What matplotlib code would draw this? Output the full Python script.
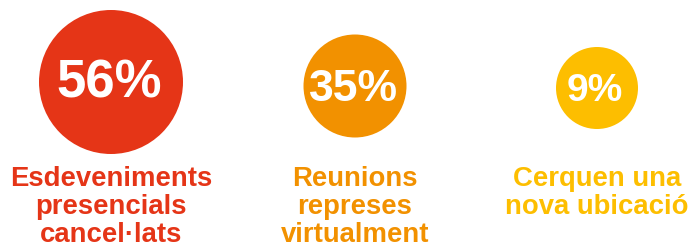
import matplotlib
matplotlib.use('Agg')
import matplotlib.pyplot as plt
from matplotlib.patches import Circle

# data
values = [56, 35, 9]
labels = [
    ['Esdeveniments', 'presencials', 'cancel·lats'],
    ['Reunions', 'represes', 'virtualment'],
    ['Cerquen una', 'nova ubicació'],
]

# layout / style (pixel units, y down)
colors = ['#E53517', '#F29100', '#FDBE00']
centers_x = [111, 355, 597]
centers_y = [83, 87, 89]
radii = [72, 51.5, 41]
num_sizes = [38, 32, 28]
num_baselines = [98, 101, 101]
label_baselines = [186, 214, 242]
label_size = 19.8

W, H = 691, 251
fig = plt.figure(figsize=(W / 100, H / 100), dpi=100)
ax = fig.add_axes([0, 0, 1, 1])
ax.set_xlim(0, W)
ax.set_ylim(H, 0)
ax.set_aspect('equal')
ax.axis('off')

for i, v in enumerate(values):
    cx, cy, r = centers_x[i], centers_y[i], radii[i]
    ax.add_patch(Circle((cx, cy), r, facecolor=colors[i], edgecolor='none'))
    ax.text(cx - 2, num_baselines[i], f'{v}%', ha='center', va='baseline',
            color='white', fontsize=num_sizes[i], fontweight='bold',
            family='Liberation Sans')
    for j, line in enumerate(labels[i]):
        ax.text(cx, label_baselines[j], line, ha='center', va='baseline',
                color=colors[i], fontsize=label_size, fontweight='bold',
                family='Liberation Sans')

fig.savefig('out.png', dpi=100, facecolor='white')
